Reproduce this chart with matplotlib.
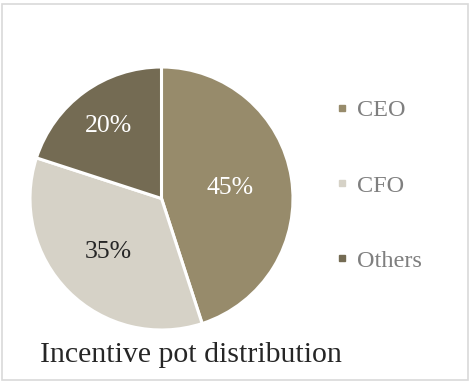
import matplotlib
matplotlib.use("Agg")
import matplotlib.pyplot as plt
import numpy as np
from matplotlib.lines import Line2D
from matplotlib.patches import Rectangle

categories = ["CEO", "CFO", "Others"]
shares = [45, 35, 20]
colors = ["#978b6b", "#d6d2c7", "#746b53"]
label_colors = ["white", "#262626", "white"]
label_dist = [0.53, 0.57, 0.68]
title = "Incentive pot distribution"

plt.rcParams['font.family'] = ['Liberation Serif', 'DejaVu Serif']

W, H = 469, 382
fig = plt.figure(figsize=(W / 100, H / 100), dpi=100)

# border
fig.patches.append(Rectangle((2 / W, 2 / H), 465.5 / W, 376 / H, transform=fig.transFigure,
                             fill=False, edgecolor="#d9d9d9", linewidth=1.2))

cx, cy, r = 161.5, H - 198.5, 131.5
ax = fig.add_axes([(cx - r) / W, (cy - r) / H, 2 * r / W, 2 * r / H])
wedges, _ = ax.pie(shares, colors=colors, startangle=90, counterclock=False,
                   wedgeprops=dict(edgecolor="white", linewidth=2.2))
ax.set_xlim(-1, 1)
ax.set_ylim(-1, 1)
ax.set_aspect("equal")
ax.axis("off")

for w, s, c, d in zip(wedges, shares, label_colors, label_dist):
    ang = np.deg2rad((w.theta1 + w.theta2) / 2)
    ax.text(d * np.cos(ang), d * np.sin(ang), f"{s}%", ha="center", va="center",
            fontsize=18.5, color=c)

handles = [Line2D([], [], marker="s", linestyle="none", markersize=4.5,
                  markerfacecolor=col, markeredgecolor=col) for col in colors]
fig.legend(handles, categories, loc="center left", bbox_to_anchor=(324 / W, (H - 185.5) / H),
           frameon=False, fontsize=17.5, labelcolor="#7f7f7f", handlelength=0.5,
           handletextpad=0.35, labelspacing=2.2, borderpad=0)

fig.text(40 / W, (H - 355) / H, title, ha="left", va="center", fontsize=21.5, color="#262626")

fig.savefig("out.png", dpi=100)
